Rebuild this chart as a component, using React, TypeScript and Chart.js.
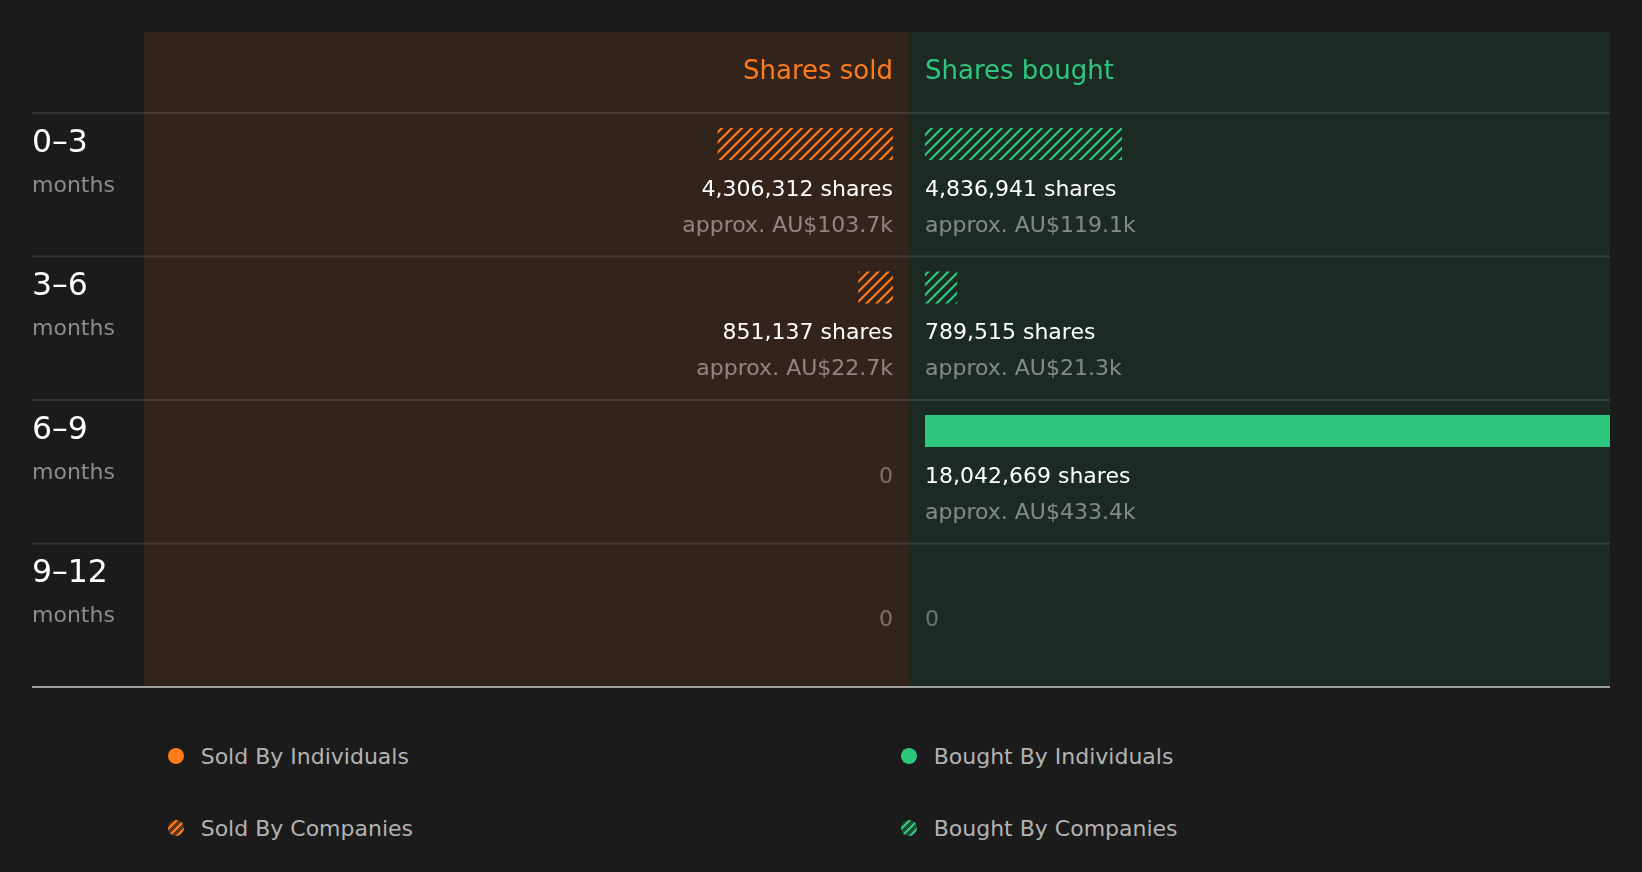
import { useEffect, useRef } from "react";
import { Chart, registerables } from "chart.js";

Chart.register(...registerables);

// data
const periods = ["0–3", "3–6", "6–9", "9–12"];
const periodUnit = "months";
const soldByIndividuals = [0, 0, 0, 0];
const soldByCompanies = [4306312, 851137, 0, 0];
const boughtByIndividuals = [0, 0, 18042669, 0];
const boughtByCompanies = [4836941, 789515, 0, 0];
const soldValueK = [103.7, 22.7, 0, 0];
const boughtValueK = [119.1, 21.3, 433.4, 0];
const sideTitles = ["Shares sold", "Shares bought"];
const legendLabels = ["Sold By Individuals", "Sold By Companies", "Bought By Individuals", "Bought By Companies"];

// colours
const BG = "#1b1b1b";
const ORANGE = "#ff7b1c";
const GREEN = "#2dc87e";
const ORANGE_DIM = "rgba(255,123,28,0.3)";
const GREEN_DIM = "rgba(45,200,126,0.3)";
const SOLD_BG = "#33241b";
const BOUGHT_BG = "#1c2a24";
const FONT = '"DejaVu Sans", sans-serif';

// layout (px)
const W = 1642;
const H = 700;
const LEFT = 144;
const MID = 909;
const RIGHT = 1610;
const TOP = 113;
const BOTTOM = 687;
const PANEL_TOP = 32;
const LABEL_X = 32;
const GAP = 16; // space between the middle line and each zero
const FULL = 735; // px taken by the biggest trade
const BAR_PX = 32;
const BAR_TOP = 15; // bar offset from the row top

const biggest = Math.max(...soldByIndividuals, ...soldByCompanies, ...boughtByIndividuals, ...boughtByCompanies);
const perPx = biggest / FULL;

// bars sit at the top of each row: two groups (bars + empty text slot)
const rowH = (BOTTOM - TOP) / periods.length;
const catPct = (4 * (rowH / 2 - BAR_TOP - BAR_PX / 2)) / rowH;
const barPct = BAR_PX / ((rowH * catPct) / 2);

const hatch = (color: string) => {
  const c = document.createElement("canvas");
  c.width = 10;
  c.height = 10;
  const g = c.getContext("2d")!;
  g.strokeStyle = color;
  g.lineWidth = 2.2;
  g.beginPath();
  g.moveTo(0, 10);
  g.lineTo(10, 0);
  g.moveTo(-1, 1);
  g.lineTo(1, -1);
  g.moveTo(9, 11);
  g.lineTo(11, 9);
  g.stroke();
  return g.createPattern(c, "repeat")!;
};

const nz = (a: number[]) => a.map((v) => (v > 0 ? v : null));

const sidesPlugin = {
  id: "sides",
  beforeDatasetsDraw(chart: any) {
    const { ctx, chartArea, scales } = chart;
    const xs0 = scales.xs.getPixelForValue(0);
    const xb0 = scales.xb.getPixelForValue(0);
    const mid = (xs0 + xb0) / 2;
    ctx.save();
    ctx.fillStyle = SOLD_BG;
    ctx.fillRect(chartArea.left, PANEL_TOP, mid - chartArea.left, chartArea.bottom - PANEL_TOP);
    ctx.fillStyle = BOUGHT_BG;
    ctx.fillRect(mid, PANEL_TOP, chartArea.right - mid, chartArea.bottom - PANEL_TOP);

    ctx.fillStyle = "rgba(255,255,255,0.1)";
    periods.forEach((_, i) => {
      const yy = scales.y.getPixelForValue(i - 0.5);
      ctx.fillRect(LABEL_X, yy - 1, chartArea.right - LABEL_X, 2);
    });
    ctx.fillStyle = "#9e9e9e";
    ctx.fillRect(LABEL_X, chartArea.bottom - 1, chartArea.right - LABEL_X, 2);

    ctx.font = `26px ${FONT}`;
    ctx.textBaseline = "alphabetic";
    ctx.textAlign = "right";
    ctx.fillStyle = ORANGE;
    ctx.fillText(sideTitles[0], xs0, 79);
    ctx.textAlign = "left";
    ctx.fillStyle = GREEN;
    ctx.fillText(sideTitles[1], xb0, 79);
    ctx.restore();
  },
  afterDatasetsDraw(chart: any) {
    const { ctx, scales } = chart;
    const xs0 = scales.xs.getPixelForValue(0);
    const xb0 = scales.xb.getPixelForValue(0);
    ctx.save();
    ctx.textBaseline = "alphabetic";
    periods.forEach((p, i) => {
      const top = scales.y.getPixelForValue(i - 0.5);
      ctx.textAlign = "left";
      ctx.font = `31.5px ${FONT}`;
      ctx.fillStyle = "#ffffff";
      ctx.fillText(p, LABEL_X, top + 38.5);
      ctx.font = `22px ${FONT}`;
      ctx.fillStyle = "#8c8c8c";
      ctx.fillText(periodUnit, LABEL_X, top + 78.5);

      const sides = [
        { total: soldByIndividuals[i] + soldByCompanies[i], k: soldValueK[i], x: xs0, align: "right" },
        { total: boughtByIndividuals[i] + boughtByCompanies[i], k: boughtValueK[i], x: xb0, align: "left" },
      ];
      sides.forEach((s) => {
        ctx.textAlign = s.align;
        ctx.font = `22px ${FONT}`;
        if (s.total > 0) {
          ctx.fillStyle = "#ffffff";
          ctx.fillText(`${s.total.toLocaleString("en-US")} shares`, s.x, top + 82.5);
          ctx.fillStyle = "rgba(255,255,255,0.45)";
          ctx.fillText(`approx. AU$${s.k.toFixed(1)}k`, s.x, top + 118.5);
        } else {
          ctx.fillStyle = "rgba(255,255,255,0.35)";
          ctx.fillText("0", s.x, top + 82.5);
        }
      });
    });
    ctx.restore();
  },
};

const legendItems = [
  { label: legendLabels[0], fill: ORANGE },
  { label: legendLabels[2], fill: GREEN },
  { label: legendLabels[1], fill: `repeating-linear-gradient(135deg, ${ORANGE} 0 2.2px, ${ORANGE_DIM} 2.2px 5.5px)` },
  { label: legendLabels[3], fill: `repeating-linear-gradient(135deg, ${GREEN} 0 2.2px, ${GREEN_DIM} 2.2px 5.5px)` },
];

export default function App() {
  const canva = useRef<HTMLCanvasElement | null>(null);

  useEffect(() => {
    if (!canva.current) return;

    const chart = new Chart(canva.current, {
      type: "bar",
      data: {
        labels: periods,
        datasets: [
          { label: legendLabels[0], data: nz(soldByIndividuals), xAxisID: "xs", backgroundColor: ORANGE, stack: "bars" },
          { label: legendLabels[1], data: nz(soldByCompanies), xAxisID: "xs", backgroundColor: hatch(ORANGE), stack: "bars" },
          { label: legendLabels[2], data: nz(boughtByIndividuals), xAxisID: "xb", backgroundColor: GREEN, stack: "bars" },
          { label: legendLabels[3], data: nz(boughtByCompanies), xAxisID: "xb", backgroundColor: hatch(GREEN), stack: "bars" },
          { label: "", data: periods.map(() => null), xAxisID: "xb", stack: "text" },
        ],
      } as any,
      options: {
        indexAxis: "y",
        responsive: false,
        animation: false,
        events: [],
        layout: { padding: { left: LEFT, right: W - RIGHT, top: TOP, bottom: H - BOTTOM } },
        datasets: {
          bar: { categoryPercentage: catPct, barPercentage: barPct, borderWidth: 0, clip: 0 } as any,
        },
        scales: {
          y: { type: "category", display: false, offset: true },
          xs: {
            type: "linear",
            position: "bottom",
            display: false,
            reverse: true,
            stacked: false,
            bounds: "data",
            min: -(RIGHT - (MID - GAP)) * perPx,
            max: (MID - GAP - LEFT) * perPx,
          },
          xb: {
            type: "linear",
            position: "bottom",
            display: false,
            stacked: false,
            bounds: "data",
            min: -(MID + GAP - LEFT) * perPx,
            max: (RIGHT - MID - GAP) * perPx,
          },
        } as any,
        plugins: {
          legend: { display: false },
          tooltip: { enabled: false },
        },
      },
      plugins: [sidesPlugin as any],
    });

    return () => {
      chart.destroy();
    };
  }, []);

  return (
    <div style={{ position: "fixed", left: 0, top: 0, width: "100vw", height: "100vh", background: BG, overflow: "hidden" }}>
      <canvas ref={canva} width={W} height={H} style={{ display: "block" }} />
      <div
        style={{
          position: "absolute",
          left: LEFT,
          top: 720,
          width: RIGHT - LEFT,
          display: "grid",
          gridTemplateColumns: "1fr 1fr",
          gridAutoRows: "72px",
          fontFamily: FONT,
          fontSize: "22px",
          color: "#b3b3b3",
        }}
      >
        {legendItems.map((it) => (
          <div key={it.label} style={{ display: "flex", alignItems: "center", paddingLeft: 24 }}>
            <span style={{ width: 16, height: 16, borderRadius: "50%", background: it.fill, marginRight: 16.7, flex: "none" }} />
            <span>{it.label}</span>
          </div>
        ))}
      </div>
    </div>
  );
}
